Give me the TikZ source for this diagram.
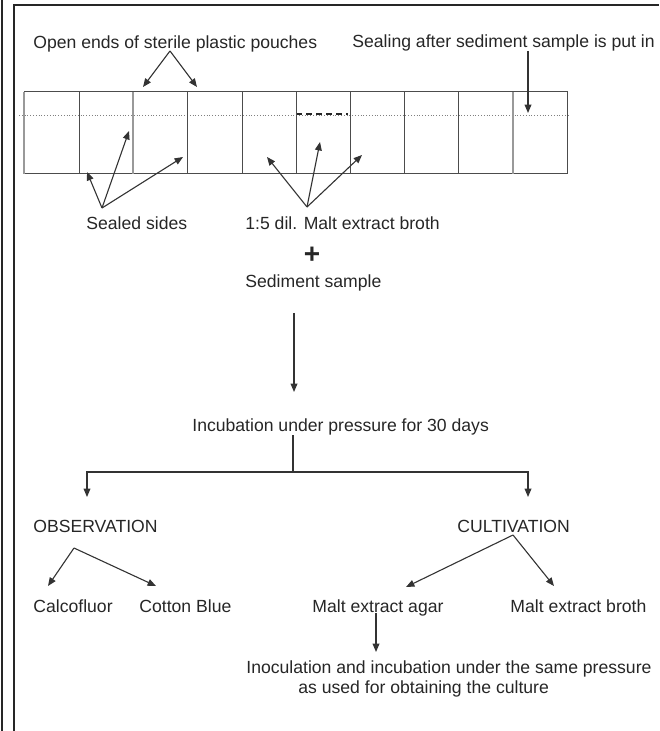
\documentclass[tikz,border=0pt]{standalone}
\usepackage{fontspec}
\setmainfont{Liberation Sans}
\usetikzlibrary{arrows.meta}

\begin{document}
\begin{tikzpicture}[x=0.5pt,y=-0.5pt,>={Triangle[length=4.2pt,width=3.4pt]},
            lbl/.style={anchor=base west,inner sep=0pt,text=black!85,font=\fontsize{8.8}{10.5}\selectfont},
            conn/.style={->,draw=black!80,line width=0.55pt},
            pouch/.style={draw=black!70,line width=0.5pt}]
            \useasboundingbox (0,0) rectangle (659,731);
            \draw [line width=1pt,black!85] (2,0) -- (2,731);
            \draw [line width=1pt,black!85] (14,731) -- (14,5) -- (659,5);
            \draw [black!50,densely dotted,line width=0.4pt] (19,115) -- (569,115);
            \draw [black!85,densely dashed,line width=0.7pt] (296,114) -- (348,114);
            \draw [pouch] (24,92) rectangle (567,174);
            \foreach \x in {79,187,242,296,350,404,458}
                \draw [pouch] (\x,92) -- (\x,174);
            \foreach \x in {24,133,513}
                \draw [black!40,line width=1pt] (\x,92) -- (\x,174);
            \node [lbl] (open) at (33,49) {Open ends of sterile plastic pouches};
            \node [lbl] (sealing) at (352,48) {Sealing after sediment sample is put in};
            \node [lbl] (sealed) at (86,230) {Sealed sides};
            \node [lbl] (broth) at (245,230) {1:5 dil. Malt extract broth};
            \node [lbl,anchor=center,font=\bfseries\fontsize{14}{14}\selectfont] (plus) at (312,255) {+};
            \node [lbl] (sediment) at (245,288) {Sediment sample};
            \node [lbl] (incub) at (192,431) {Incubation under pressure for 30 days};
            \node [lbl] (obs) at (33,532) {OBSERVATION};
            \node [lbl] (cult) at (457,532) {CULTIVATION};
            \node [lbl] (calco) at (33,612) {Calcofluor};
            \node [lbl] (cotton) at (139,612) {Cotton Blue};
            \node [lbl] (agar) at (312,612) {Malt extract agar};
            \node [lbl] (mebroth) at (510,612) {Malt extract broth};
            \node [lbl] (inoc) at (246,673) {Inoculation and incubation under the same pressure};
            \node [lbl] (used) at (298,693) {as used for obtaining the culture};
            \coordinate (openfork) at (170,51);
            \coordinate (openl) at (143,87);
            \coordinate (openr) at (197,87);
            \coordinate (sealtop) at (528,51);
            \coordinate (sealtip) at (528,113);
            \coordinate (sealedfork) at (102,208);
            \coordinate (sealeda) at (87,172);
            \coordinate (sealedb) at (129,131);
            \coordinate (sealedc) at (183,157);
            \coordinate (brothfork) at (307,207);
            \coordinate (brotha) at (267,157);
            \coordinate (brothb) at (320,142);
            \coordinate (brothc) at (362,155);
            \coordinate (downtop) at (294,313);
            \coordinate (downtip) at (294,392);
            \coordinate (split) at (293,472);
            \coordinate (obstip) at (87,497);
            \coordinate (culttip) at (528,497);
            \coordinate (obsfork) at (74,548);
            \coordinate (calcotip) at (48,586);
            \coordinate (cottontip) at (156,586);
            \coordinate (cultfork) at (513,535);
            \coordinate (agartip) at (406,587);
            \coordinate (mebrothtip) at (554,586);
            \coordinate (agarstem) at (376,613);
            \coordinate (inoctip) at (376,652);
            \draw [conn] (openfork) -- (openl);
            \draw [conn] (openfork) -- (openr);
            \draw [conn] (sealtop) -- (sealtip);
            \draw [conn] (sealedfork) -- (sealeda);
            \draw [conn] (sealedfork) -- (sealedb);
            \draw [conn] (sealedfork) -- (sealedc);
            \draw [conn] (brothfork) -- (brotha);
            \draw [conn] (brothfork) -- (brothb);
            \draw [conn] (brothfork) -- (brothc);
            \draw [conn] (downtop) -- (downtip);
            \draw [conn,-] (incub.south -| split) -- (split);
            \draw [conn] (split) -| (obstip);
            \draw [conn] (split) -| (culttip);
            \draw [conn] (obsfork) -- (calcotip);
            \draw [conn] (obsfork) -- (cottontip);
            \draw [conn] (cultfork) -- (agartip);
            \draw [conn] (cultfork) -- (mebrothtip);
            \draw [conn] (agarstem) -- (inoctip);
        \end{tikzpicture}
\end{document}
